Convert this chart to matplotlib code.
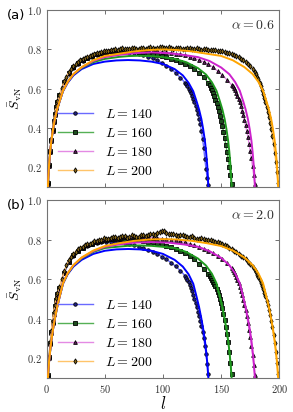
import matplotlib
matplotlib.use("Agg")
import matplotlib.pyplot as plt
import numpy as np
from matplotlib.ticker import FuncFormatter

plt.rcParams["mathtext.fontset"] = "cm"

# system sizes
sizes = [140, 160, 180, 200]

# subsystem sizes at which the data was sampled
l_140 = np.r_[1:10, 11:120:4, 120:140]
l_160 = np.r_[1:10, 11:140:4, 140:160]
l_180 = np.r_[1:10, 11:160:4, 160:180]
l_200 = np.r_[1:10, 11:180:2, 180:200]

# data, alpha = 0.6
s06_140 = [0.12, 0.21, 0.28, 0.34, 0.39, 0.43, 0.47, 0.50, 0.53,
           0.565, 0.632, 0.676, 0.708, 0.728, 0.742, 0.755, 0.764, 0.772, 0.778,
           0.781, 0.785, 0.786, 0.787, 0.786, 0.784, 0.781, 0.776, 0.77, 0.763,
           0.755, 0.745, 0.732, 0.717, 0.70, 0.68, 0.656, 0.63,
           0.622, 0.612, 0.60, 0.59, 0.576, 0.562, 0.548, 0.532, 0.512, 0.492,
           0.47, 0.445, 0.418, 0.385, 0.345, 0.30, 0.24, 0.19, 0.145, 0.11]
s06_160 = [0.12, 0.21, 0.285, 0.34, 0.39, 0.435, 0.47, 0.505, 0.53,
           0.568, 0.636, 0.679, 0.71, 0.731, 0.746, 0.757, 0.767, 0.775, 0.781,
           0.786, 0.79, 0.792, 0.793, 0.793, 0.792, 0.791, 0.789, 0.786, 0.782,
           0.778, 0.773, 0.767, 0.76, 0.753, 0.745, 0.736, 0.726, 0.714, 0.70,
           0.682, 0.66, 0.628,
           0.618, 0.605, 0.592, 0.577, 0.562, 0.545, 0.528, 0.507, 0.485, 0.462,
           0.438, 0.41, 0.38, 0.348, 0.315, 0.28, 0.243, 0.203, 0.16, 0.115]
s06_180 = [0.115, 0.205, 0.28, 0.335, 0.385, 0.43, 0.465, 0.50, 0.525,
           0.562, 0.633, 0.681, 0.712, 0.733, 0.748, 0.76, 0.77, 0.777, 0.783,
           0.789, 0.792, 0.795, 0.797, 0.798, 0.798, 0.797, 0.797, 0.796, 0.795,
           0.793, 0.791, 0.789, 0.786, 0.783, 0.779, 0.775, 0.77, 0.762, 0.755,
           0.747, 0.737, 0.725, 0.71, 0.69, 0.67, 0.645, 0.62,
           0.615, 0.605, 0.593, 0.58, 0.565, 0.548, 0.53, 0.51, 0.488, 0.465,
           0.44, 0.413, 0.385, 0.354, 0.32, 0.283, 0.245, 0.204, 0.16, 0.115]
s06_200 = [0.125, 0.215, 0.29, 0.345, 0.395, 0.44, 0.475, 0.51, 0.535,
           0.566, 0.605, 0.638, 0.662, 0.683, 0.699, 0.714, 0.724, 0.735, 0.744,
           0.75, 0.758, 0.762, 0.769, 0.772, 0.777, 0.78, 0.784, 0.786, 0.79,
           0.792, 0.793, 0.796, 0.799, 0.80, 0.798, 0.803, 0.805, 0.801, 0.802,
           0.804, 0.808, 0.806, 0.802, 0.803, 0.807, 0.806, 0.804, 0.808, 0.81,
           0.805, 0.803, 0.807, 0.811, 0.81, 0.807, 0.806, 0.81, 0.808, 0.804,
           0.805, 0.809, 0.807, 0.803, 0.804, 0.808, 0.806, 0.802, 0.803, 0.805,
           0.801, 0.799, 0.802, 0.80, 0.799, 0.796, 0.797, 0.795, 0.794, 0.791,
           0.79, 0.787, 0.784, 0.78, 0.776, 0.771, 0.765, 0.759, 0.752, 0.745,
           0.736, 0.727, 0.716, 0.702, 0.685,
           0.675, 0.662, 0.648, 0.63, 0.612, 0.593, 0.573, 0.552, 0.53, 0.507,
           0.482, 0.455, 0.425, 0.393, 0.357, 0.318, 0.275, 0.228, 0.175, 0.118]

# data, alpha = 2.0
s2_140 = [0.11, 0.2, 0.27, 0.33, 0.38, 0.42, 0.46, 0.49, 0.52,
          0.552, 0.63, 0.685, 0.72, 0.742, 0.757, 0.768, 0.776, 0.782, 0.786,
          0.789, 0.79, 0.789, 0.787, 0.783, 0.778, 0.772, 0.765, 0.757, 0.748,
          0.739, 0.728, 0.714, 0.70, 0.684, 0.665, 0.643, 0.617,
          0.608, 0.598, 0.586, 0.572, 0.556, 0.538, 0.518, 0.498, 0.478, 0.457,
          0.435, 0.412, 0.388, 0.362, 0.334, 0.302, 0.264, 0.22, 0.17, 0.118]
s2_160 = [0.115, 0.205, 0.275, 0.335, 0.385, 0.425, 0.465, 0.495, 0.525,
          0.558, 0.634, 0.688, 0.722, 0.745, 0.76, 0.771, 0.78, 0.787, 0.793,
          0.798, 0.802, 0.804, 0.803, 0.805, 0.802, 0.80, 0.797, 0.795, 0.79,
          0.786, 0.781, 0.776, 0.77, 0.763, 0.755, 0.745, 0.733, 0.718, 0.70,
          0.678, 0.653, 0.625,
          0.617, 0.608, 0.598, 0.588, 0.577, 0.565, 0.552, 0.537, 0.52, 0.50,
          0.478, 0.453, 0.425, 0.394, 0.36, 0.322, 0.28, 0.232, 0.178, 0.118]
s2_180 = [0.11, 0.2, 0.27, 0.33, 0.38, 0.425, 0.46, 0.49, 0.52,
          0.555, 0.636, 0.69, 0.725, 0.748, 0.762, 0.774, 0.782, 0.79, 0.796,
          0.802, 0.806, 0.81, 0.809, 0.813, 0.81, 0.814, 0.811, 0.815, 0.812,
          0.81, 0.808, 0.806, 0.803, 0.80, 0.796, 0.792, 0.787, 0.78, 0.772,
          0.763, 0.755, 0.745, 0.732, 0.718, 0.70, 0.682, 0.655,
          0.647, 0.637, 0.625, 0.612, 0.597, 0.58, 0.562, 0.542, 0.52, 0.496,
          0.47, 0.442, 0.412, 0.38, 0.345, 0.306, 0.264, 0.218, 0.168, 0.115]
s2_200 = [0.115, 0.205, 0.28, 0.34, 0.39, 0.435, 0.47, 0.505, 0.53,
          0.56, 0.602, 0.64, 0.67, 0.695, 0.715, 0.73, 0.74, 0.752, 0.76,
          0.765, 0.774, 0.778, 0.78, 0.785, 0.792, 0.795, 0.797, 0.80, 0.808,
          0.806, 0.803, 0.81, 0.816, 0.815, 0.809, 0.812, 0.82, 0.818, 0.811,
          0.814, 0.822, 0.82, 0.813, 0.816, 0.824, 0.822, 0.818, 0.825, 0.83,
          0.828, 0.826, 0.835, 0.84, 0.842, 0.845, 0.836, 0.831, 0.828, 0.83,
          0.824, 0.82, 0.822, 0.824, 0.818, 0.813, 0.815, 0.817, 0.81, 0.806,
          0.806, 0.808, 0.803, 0.80, 0.798, 0.797, 0.793, 0.79, 0.786, 0.782,
          0.777, 0.772, 0.766, 0.759, 0.752, 0.745, 0.737, 0.729, 0.72, 0.71,
          0.70, 0.688, 0.675, 0.661, 0.645,
          0.635, 0.622, 0.61, 0.596, 0.582, 0.566, 0.55, 0.532, 0.513, 0.492,
          0.47, 0.446, 0.42, 0.39, 0.357, 0.32, 0.278, 0.23, 0.178, 0.12]

# fitted curves
fit_l_140 = [1, 1.5, 2, 3, 4, 5.5, 7, 9, 11, 14, 18, 23, 30, 40, 50, 60, 70,
             80, 90, 100, 110, 117, 122, 126, 129, 131, 133, 134.5, 136, 137,
             138, 138.5, 139]
fit_l_160 = [1, 1.5, 2, 3, 4, 5.5, 7, 9, 11, 14, 18, 23, 30, 40, 50, 62, 70, 80,
             90, 98, 110, 120, 130, 137, 142, 146, 149, 151, 153, 154.5, 156,
             157, 158, 158.5, 159]
fit_l_180 = [1, 1.5, 2, 3, 4, 5.5, 7, 9, 11, 14, 18, 23, 30, 40, 50, 62, 75, 90,
             105, 118, 130, 140, 150, 157, 162, 166, 169, 171, 173, 174.5, 176,
             177, 178, 178.5, 179]
fit_l_200 = [1, 1.5, 2, 3, 4, 5.5, 7, 9, 11, 14, 18, 23, 30, 40, 50, 62, 75, 88,
             100, 112, 125, 138, 150, 160, 170, 177, 182, 186, 189, 191, 193,
             194.5, 196, 197, 198, 198.5, 199]

fit06_140 = [0.10, 0.16, 0.21, 0.28, 0.335, 0.395, 0.445, 0.494, 0.533, 0.587,
             0.63, 0.668, 0.70, 0.726, 0.738, 0.744, 0.746,
             0.744, 0.738, 0.726, 0.70, 0.668, 0.63, 0.587, 0.533, 0.494, 0.445,
             0.395, 0.335, 0.28, 0.21, 0.16, 0.10]
fit06_160 = [0.10, 0.16, 0.21, 0.28, 0.335, 0.395, 0.445, 0.495, 0.534, 0.589,
             0.633, 0.672, 0.705, 0.735, 0.752, 0.762, 0.766, 0.768,
             0.766, 0.762, 0.752, 0.735, 0.705, 0.672, 0.633, 0.589, 0.534,
             0.495, 0.445, 0.395, 0.335, 0.28, 0.21, 0.16, 0.10]
fit06_180 = [0.10, 0.16, 0.21, 0.28, 0.335, 0.395, 0.445, 0.495, 0.535, 0.59,
             0.634, 0.674, 0.708, 0.741, 0.761, 0.772, 0.781, 0.785,
             0.781, 0.772, 0.761, 0.741, 0.708, 0.674, 0.634, 0.59, 0.535,
             0.495, 0.445, 0.395, 0.335, 0.28, 0.21, 0.16, 0.10]
fit06_200 = [0.10, 0.16, 0.21, 0.28, 0.335, 0.395, 0.445, 0.495, 0.535, 0.59,
             0.635, 0.675, 0.71, 0.745, 0.767, 0.778, 0.79, 0.797, 0.80,
             0.797, 0.79, 0.778, 0.767, 0.745, 0.71, 0.675, 0.635, 0.59, 0.535,
             0.495, 0.445, 0.395, 0.335, 0.28, 0.21, 0.16, 0.10]

fit2_140 = [0.10, 0.14, 0.18, 0.24, 0.29, 0.35, 0.40, 0.459, 0.508, 0.577,
            0.625, 0.664, 0.698, 0.728, 0.744, 0.751, 0.753,
            0.751, 0.744, 0.728, 0.698, 0.664, 0.625, 0.577, 0.508, 0.459, 0.40,
            0.35, 0.29, 0.24, 0.18, 0.14, 0.10]
fit2_160 = [0.10, 0.14, 0.18, 0.24, 0.29, 0.35, 0.40, 0.46, 0.51, 0.579,
            0.628, 0.669, 0.705, 0.738, 0.758, 0.765, 0.769, 0.771,
            0.769, 0.765, 0.758, 0.738, 0.705, 0.669, 0.628, 0.579, 0.51, 0.46,
            0.40, 0.35, 0.29, 0.24, 0.18, 0.14, 0.10]
fit2_180 = [0.10, 0.14, 0.18, 0.24, 0.29, 0.35, 0.40, 0.46, 0.51, 0.58,
            0.63, 0.671, 0.708, 0.742, 0.764, 0.776, 0.785, 0.788,
            0.785, 0.776, 0.764, 0.742, 0.708, 0.671, 0.63, 0.58, 0.51, 0.46,
            0.40, 0.35, 0.29, 0.24, 0.18, 0.14, 0.10]
fit2_200 = [0.10, 0.14, 0.18, 0.24, 0.29, 0.35, 0.40, 0.46, 0.51, 0.58,
            0.63, 0.672, 0.71, 0.745, 0.768, 0.782, 0.794, 0.801, 0.803,
            0.801, 0.794, 0.782, 0.768, 0.745, 0.71, 0.672, 0.63, 0.58, 0.51,
            0.46, 0.40, 0.35, 0.29, 0.24, 0.18, 0.14, 0.10]

panel_labels = ["(a)", "(b)"]
alpha_labels = [r"$\alpha=0.6$", r"$\alpha=2.0$"]

l_data = [l_140, l_160, l_180, l_200]
fit_l = [fit_l_140, fit_l_160, fit_l_180, fit_l_200]
panel_data = [[s06_140, s06_160, s06_180, s06_200],
              [s2_140, s2_160, s2_180, s2_200]]
panel_fits = [[fit06_140, fit06_160, fit06_180, fit06_200],
              [fit2_140, fit2_160, fit2_180, fit2_200]]

fit_colors = ["#0000ff", "#1f9a1f", "#cc22cc", "#ffa500"]
line_colors = ["#6a6aff", "#55b055", "#e48ae4", "#ffc46a"]
face_colors = ["#20208a", "#1e4f1e", "#5e1a5e", "#8b6a18"]
markers = ["o", "s", "^", "d"]
msizes = [2.5, 2.3, 2.7, 2.7]

fig = plt.figure(figsize=(2.93, 4.12), dpi=100)
ax_top = fig.add_axes([0.1594, 0.5464, 0.7939, 0.4289])
ax_bot = fig.add_axes([0.1594, 0.0825, 0.7939, 0.4316])
axes = [ax_top, ax_bot]

tick_fmt = FuncFormatter(lambda v, p: f"${v:.1f}$")
xtick_fmt = FuncFormatter(lambda v, p: f"${v:.0f}$")

for k, ax in enumerate(axes):
    for i, L in enumerate(sizes):
        ax.plot(l_data[i], panel_data[k][i], ls="-", lw=1.0, color=line_colors[i],
                marker=markers[i], ms=msizes[i], mfc=face_colors[i], mec="black",
                mew=0.6, label=rf"$L={L}$", zorder=2)
    for i, L in enumerate(sizes):
        ax.plot(fit_l[i], panel_fits[k][i], "-", lw=1.4, color=fit_colors[i], zorder=3)

    ax.set_xlim(0, 200)
    ax.set_ylim(0.1, 1.0)
    ax.set_xticks([0, 50, 100, 150, 200])
    ax.set_yticks([0.2, 0.4, 0.6, 0.8, 1.0])
    ax.yaxis.set_major_formatter(tick_fmt)
    ax.xaxis.set_major_formatter(xtick_fmt)
    ax.tick_params(direction="in", top=True, right=True, length=3, width=0.6,
                   labelsize=7.5, colors="0.35", labelcolor="0.2")
    for sp in ax.spines.values():
        sp.set_color("0.45")
        sp.set_linewidth(0.8)
    ax.set_ylabel(r"$\bar{S}_{\rm vN}$", fontsize=10, labelpad=2)
    ax.text(0.982, 0.915, alpha_labels[k], transform=ax.transAxes, ha="right",
            va="center", fontsize=10, color="0.2")
    ax.legend(loc="lower left", bbox_to_anchor=(0.0, -0.01), frameon=False,
              fontsize=10, handlelength=2.5, handletextpad=0.9, labelspacing=0.35,
              borderpad=0.3)

ax_top.tick_params(labelbottom=False)
ax_bot.set_xlabel(r"$l$", fontsize=12, labelpad=0)

fig.text(0.024, 0.963, panel_labels[0], fontsize=9.5, va="center", ha="left")
fig.text(0.024, 0.502, panel_labels[1], fontsize=9.5, va="center", ha="left")

fig.savefig("out.png", dpi=100)
